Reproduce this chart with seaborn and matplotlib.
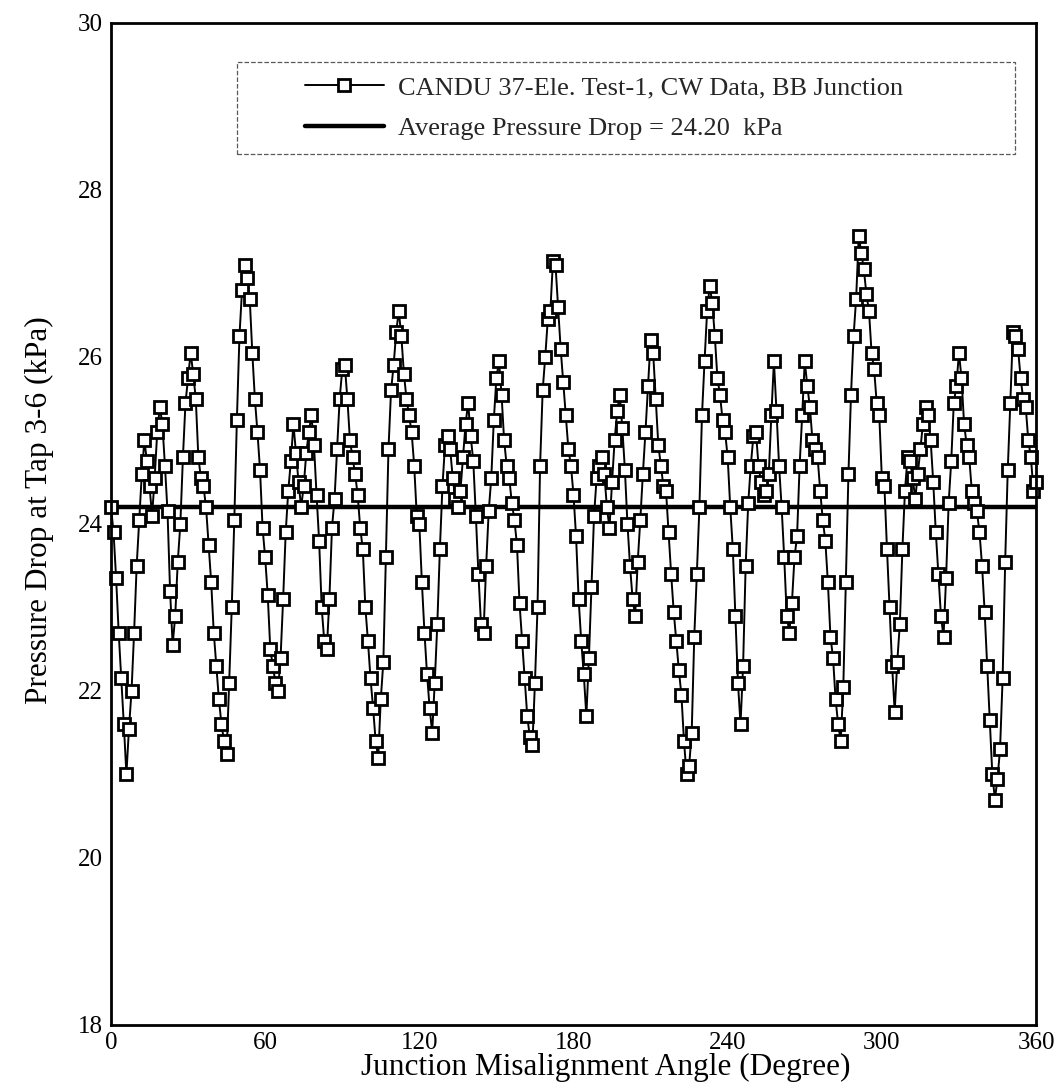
import numpy as np
import pandas as pd
import matplotlib
matplotlib.use("Agg")
import matplotlib.pyplot as plt
import seaborn as sns
from matplotlib.patches import Rectangle

# Angle step of 1 degree, 0..360
angle_deg = np.arange(0, 361, 1)

# Pressure drop (kPa), one value per degree
pressure_drop_kpa = [
    24.20, 23.90, 23.35, 22.70, 22.15, 21.60, 21.00, 21.55, 22.00, 22.70,
    23.50, 24.05, 24.60, 25.00, 24.75, 24.45, 24.10, 24.55, 25.10, 25.40,
    25.20, 24.70, 24.15, 23.20, 22.55, 22.90, 23.55, 24.00, 24.80, 25.45,
    25.75, 26.05, 25.80, 25.50, 24.80, 24.55, 24.45, 24.20, 23.75, 23.30,
    22.70, 22.30, 21.90, 21.60, 21.40, 21.25, 22.10, 23.00, 24.05, 25.25,
    26.25, 26.80, 27.10, 26.95, 26.70, 26.05, 25.50, 25.10, 24.65, 23.95,
    23.60, 23.15, 22.50, 22.30, 22.10, 22.00, 22.40, 23.10, 23.90, 24.40,
    24.75, 25.20, 24.85, 24.50, 24.20, 24.45, 24.85, 25.10, 25.30, 24.95,
    24.35, 23.80, 23.00, 22.60, 22.50, 23.10, 23.95, 24.30, 24.90, 25.50,
    25.85, 25.90, 25.50, 25.00, 24.80, 24.60, 24.35, 23.95, 23.70, 23.00,
    22.60, 22.15, 21.80, 21.40, 21.20, 21.90, 22.35, 23.60, 24.90, 25.60,
    25.90, 26.30, 26.55, 26.25, 25.80, 25.50, 25.30, 25.10, 24.70, 24.10,
    24.00, 23.30, 22.70, 22.20, 21.80, 21.50, 22.10, 22.80, 23.70, 24.45,
    24.95, 25.05, 24.90, 24.55, 24.30, 24.20, 24.40, 24.80, 25.20, 25.45,
    25.05, 24.75, 24.10, 23.40, 22.80, 22.70, 23.50, 24.15, 24.55, 25.25,
    25.75, 25.95, 25.55, 25.00, 24.70, 24.55, 24.25, 24.05, 23.75, 23.05,
    22.60, 22.15, 21.70, 21.45, 21.35, 22.10, 23.00, 24.70, 25.60, 26.00,
    26.45, 26.55, 27.15, 27.10, 26.60, 26.10, 25.70, 25.30, 24.90, 24.70,
    24.35, 23.85, 23.10, 22.60, 22.20, 21.70, 22.40, 23.25, 24.10, 24.55,
    24.70, 24.80, 24.60, 24.20, 23.95, 24.50, 25.00, 25.35, 25.55, 25.15,
    24.65, 24.00, 23.50, 23.10, 22.90, 23.55, 24.05, 24.60, 25.10, 25.65,
    26.20, 26.05, 25.50, 24.95, 24.70, 24.45, 24.40, 23.90, 23.40, 22.95,
    22.60, 22.25, 21.95, 21.40, 21.00, 21.10, 21.50, 22.65, 23.40, 24.20,
    25.30, 25.95, 26.55, 26.85, 26.65, 26.25, 25.75, 25.55, 25.25, 25.10,
    24.80, 24.20, 23.70, 22.90, 22.10, 21.60, 22.30, 23.50, 24.25, 24.70,
    25.05, 25.10, 24.70, 24.50, 24.35, 24.40, 24.60, 25.30, 25.95, 25.35,
    24.70, 24.20, 23.60, 22.90, 22.70, 23.05, 23.60, 23.85, 24.70, 25.30,
    25.95, 25.65, 25.40, 25.00, 24.90, 24.80, 24.40, 24.05, 23.80, 23.30,
    22.65, 22.40, 21.90, 21.60, 21.40, 22.05, 23.30, 24.60, 25.55, 26.25,
    26.70, 27.45, 27.25, 27.05, 26.75, 26.55, 26.05, 25.85, 25.45, 25.30,
    24.55, 24.45, 23.70, 23.00, 22.30, 21.75, 22.35, 22.80, 23.70, 24.40,
    24.80, 24.75, 24.55, 24.30, 24.60, 24.90, 25.20, 25.40, 25.30, 25.00,
    24.50, 23.90, 23.40, 22.90, 22.65, 23.35, 24.25, 24.75, 25.45, 25.65,
    26.05, 25.75, 25.20, 24.95, 24.80, 24.40, 24.25, 24.15, 23.90, 23.50,
    22.95, 22.30, 21.65, 21.00, 20.70, 20.95, 21.30, 22.15, 23.55, 24.65,
    25.45, 26.30, 26.25, 26.10, 25.75, 25.50, 25.40, 25.00, 24.80, 24.40,
    24.50,
]
average_kpa = 24.20

series_label = "CANDU 37-Ele. Test-1, CW Data, BB Junction"
average_label = "Average Pressure Drop = 24.20  kPa"
x_ticks = [0, 60, 120, 180, 240, 300, 360]
y_ticks = [18, 20, 22, 24, 26, 28, 30]

sns.set_theme(style="white")
plt.rcParams["font.family"] = ["Liberation Serif", "DejaVu Serif"]

fig = plt.figure(figsize=(10.64, 10.83), dpi=100)
ax = fig.add_axes([0.1043, 0.0536, 0.8694, 0.9252])

df = pd.DataFrame({"angle": angle_deg, "dp": pressure_drop_kpa})

ax.axhline(average_kpa, color="black", lw=3.2, label=average_label, zorder=1)
sns.lineplot(
    data=df, x="angle", y="dp", ax=ax, color="black", lw=1.4,
    marker="s", markersize=8, markerfacecolor="white",
    markeredgecolor="black", markeredgewidth=2.0,
    label=series_label, zorder=2, clip_on=False,
)

ax.set_xlim(0, 360)
ax.set_ylim(18, 30)
ax.set_xticks(x_ticks)
ax.set_yticks(y_ticks)
ax.tick_params(direction="in", length=6, width=1.5, labelsize=18,
               colors="black", pad=6)
ax.tick_params(axis="x", pad=5)
for s in ax.spines.values():
    s.set_linewidth(2)
    s.set_color("black")

ax.set_xlabel("Junction Misalignment Angle (Degree)", fontsize=22.5,
              color="black")
ax.set_ylabel("Pressure Drop at Tap 3-6 (kPa)", fontsize=22.5,
              color="black")
ax.xaxis.label.set_va("baseline")
ax.xaxis.set_label_coords(0.535, -0.0495)
ax.yaxis.label.set_va("center")
ax.yaxis.set_label_coords(-0.077, 0.514)

# legend: series first, average second; dashed box drawn separately
handles, labels = ax.get_legend_handles_labels()
order = [labels.index(series_label), labels.index(average_label)]
ax.legend([handles[i] for i in order], [labels[i] for i in order],
          loc="upper left", bbox_to_anchor=(0.195, 0.96), frameon=False,
          fontsize=19, handlelength=3.0, handletextpad=0.55,
          labelspacing=0.65, borderpad=0, numpoints=1)
ax.add_patch(Rectangle((0.136, 0.869), 0.841, 0.092, transform=ax.transAxes,
                       fill=False, lw=0.9, ls="--", edgecolor="0.35",
                       zorder=3))

fig.savefig("out.png", dpi=100)
